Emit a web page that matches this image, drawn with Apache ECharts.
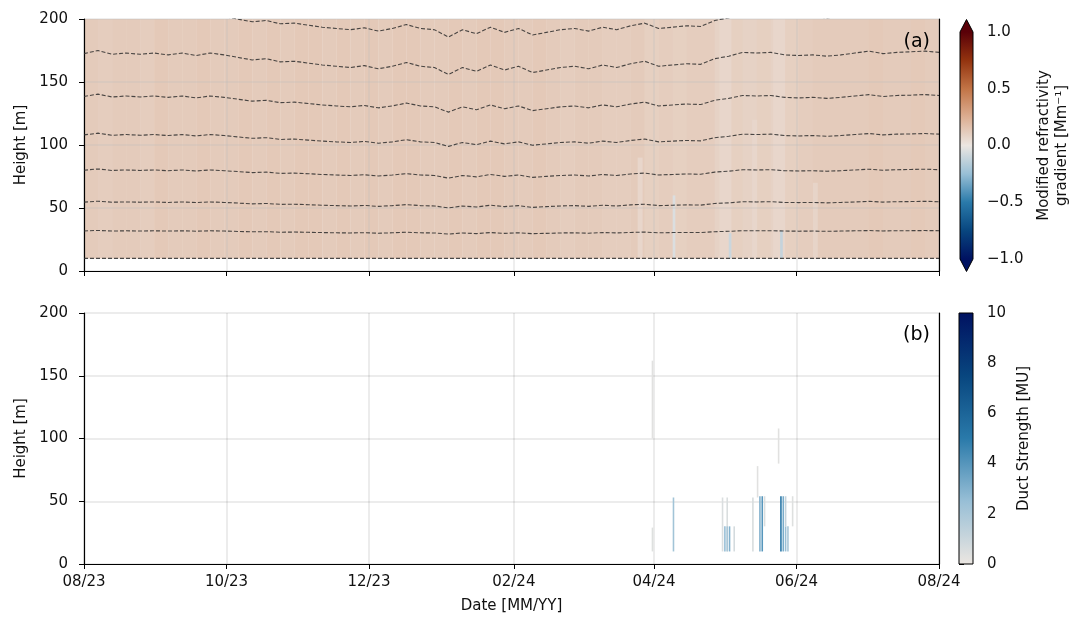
<!DOCTYPE html>
<html>
<head>
<meta charset="utf-8">
<title>Refractivity gradient and duct strength</title>
<script src="https://cdn.jsdelivr.net/npm/echarts@6/dist/echarts.min.js"></script>
<style>
  html, body { margin: 0; padding: 0; background: #fff; }
  #chart { width: 1072px; height: 619px; }
</style>
</head>
<body>
<div id="chart"></div>
<script>
// dates of the contour samples (every 6 days)
const lineDates = [
  '2023-08-01','2023-08-07','2023-08-13','2023-08-19','2023-08-25','2023-08-31',
  '2023-09-06','2023-09-12','2023-09-18','2023-09-24','2023-09-30',
  '2023-10-06','2023-10-12','2023-10-18','2023-10-24','2023-10-30',
  '2023-11-05','2023-11-11','2023-11-17','2023-11-23','2023-11-29',
  '2023-12-05','2023-12-11','2023-12-17','2023-12-23','2023-12-29',
  '2024-01-04','2024-01-10','2024-01-16','2024-01-22','2024-01-28',
  '2024-02-03','2024-02-09','2024-02-15','2024-02-21','2024-02-27',
  '2024-03-04','2024-03-10','2024-03-16','2024-03-22','2024-03-28',
  '2024-04-03','2024-04-09','2024-04-15','2024-04-21','2024-04-27',
  '2024-05-03','2024-05-09','2024-05-15','2024-05-21','2024-05-27',
  '2024-06-02','2024-06-08','2024-06-14','2024-06-20','2024-06-26',
  '2024-07-02','2024-07-08','2024-07-14','2024-07-20','2024-07-26',
  '2024-08-01'
];

// contour heights [m]
const h200 = [203,205.5,202.5,203.5,202.5,203.5,202,203.5,201.5,203.5,202,199.8,197.8,198.8,196.2,196.7,195.1,193.5,192.5,191.5,193,190.4,192.5,195.6,192.5,191.5,185.7,191.5,188.3,193.5,189.4,192.5,187.3,189.4,191.5,192.5,190.4,193.5,191.5,194.6,196.7,192.5,193.5,194.6,194.1,198.8,200.9,204,203.5,204,202,201.4,202,200.9,202,203.5,205.1,203,204,204.6,205.1,204];
const h172 = [172.5,175,172,173,172,173,171.5,173,171,173,171.5,169.5,167.5,168.5,166,166.5,165,163.5,162.5,161.5,163,160.5,162.5,165.5,162.5,161.5,156,161.5,158.5,163.5,159.5,162.5,157.5,159.5,161.5,162.5,160.5,163.5,161.5,164.5,166.5,162.5,163.5,164.5,164,168.5,170.5,173.5,173,173.5,171.5,171,171.5,170.5,171.5,173,174.5,172.5,173.5,174,174.5,173.5];
const h138 = [138.5,140.4,138.1,138.9,138.1,138.9,137.8,138.9,137.4,138.9,137.8,136.3,134.8,135.5,133.6,134,132.9,131.8,131,130.3,131.4,129.5,131,133.3,131,130.3,126.1,130.3,128,131.8,128.8,131,127.3,128.8,130.3,131,129.5,131.8,130.3,132.5,134,131,131.8,132.5,132.1,135.5,137,139.3,138.9,139.3,137.8,137.4,137.8,137,137.8,138.9,140,138.5,139.3,139.6,140,139.3];
const h108 = [108,109.4,107.7,108.3,107.7,108.3,107.5,108.3,107.2,108.3,107.5,106.4,105.3,105.8,104.4,104.7,103.9,103.1,102.5,102,102.8,101.4,102.5,104.2,102.5,102,98.9,102,100.3,103.1,100.9,102.5,99.8,100.9,102,102.5,101.4,103.1,102,103.6,104.7,102.5,103.1,103.6,103.3,105.8,106.9,108.6,108.3,108.6,107.5,107.2,107.5,106.9,107.5,108.3,109.1,108,108.6,108.8,109.1,108.6];
const h80 = [80,81,79.8,80.2,79.8,80.2,79.6,80.2,79.4,80.2,79.6,78.9,78.1,78.5,77.5,77.7,77.2,76.6,76.2,75.8,76.4,75.4,76.2,77.3,76.2,75.8,73.7,75.8,74.7,76.6,75.1,76.2,74.3,75.1,75.8,76.2,75.4,76.6,75.8,77,77.7,76.2,76.6,77,76.8,78.5,79.2,80.4,80.2,80.4,79.6,79.4,79.6,79.2,79.6,80.2,80.8,80,80.4,80.6,80.8,80.4];
const h55 = [54.7,55.4,54.6,54.8,54.6,54.8,54.4,54.8,54.3,54.8,54.4,53.9,53.3,53.6,52.9,53,52.6,52.2,51.9,51.6,52,51.3,51.9,52.7,51.9,51.6,50.1,51.6,50.8,52.2,51.1,51.9,50.5,51.1,51.6,51.9,51.3,52.2,51.6,52.5,53,51.9,52.2,52.5,52.3,53.6,54.1,55,54.8,55,54.4,54.3,54.4,54.1,54.4,54.8,55.3,54.7,55,55.1,55.3,55];
const h32 = [31.8,32.2,31.7,31.9,31.7,31.9,31.7,31.9,31.6,31.9,31.7,31.4,31.1,31.2,30.8,30.9,30.7,30.5,30.3,30.2,30.4,30,30.3,30.8,30.3,30.2,29.3,30.2,29.7,30.5,29.9,30.3,29.6,29.9,30.2,30.3,30,30.5,30.2,30.6,30.9,30.3,30.5,30.6,30.5,31.2,31.5,32,31.9,32,31.7,31.6,31.7,31.5,31.7,31.9,32.1,31.8,32,32,32.1,32];
const h10Dates = ['2023-08-01', '2024-08-01'];
const h10 = [10, 10];

// gradient [Mm^-1] per 6-day column, 10-200 m
const gradCols = [0.12,0.11,0.12,0.12,0.11,0.13,0.12,0.12,0.13,0.12,
  0.12,0.13,0.12,0.13,0.12,0.13,0.13,0.12,0.13,0.12,
  0.13,0.12,0.13,0.13,0.12,0.12,0.13,0.12,0.13,0.13,
  0.12,0.12,0.13,0.12,0.11,0.12,0.12,0.11,0.11,0.12,
  0.10,0.11,0.10,0.11,0.11,0.09,0.10,0.09,0.10,0.09,
  0.10,0.11,0.12,0.12,0.12,0.12,0.13,0.12,0.12,0.13,0.12];
const gradBottom = 10;
const gradTop = 200;

// short streaks: [from, to, bottom, top, gradient]
const gradStreaks = [
  ['2024-03-25', '2024-03-27', 10, 90, 0.07],
  ['2024-04-09', '2024-04-10', 10, 60, -0.05],
  ['2024-04-29', '2024-05-04', 10, 200, 0.07],
  ['2024-05-03', '2024-05-04', 10, 30, -0.1],
  ['2024-05-13', '2024-05-15', 10, 120, 0.07],
  ['2024-05-22', '2024-05-27', 10, 200, 0.07],
  ['2024-05-25', '2024-05-26', 10, 32, -0.12],
  ['2024-06-08', '2024-06-10', 10, 70, 0.08]
];

// ducts: [date, bottom, top, strength MU]
const ductBars = [
  ['2024-03-31', 100, 162, 0.3],
  ['2024-03-31', 10, 29, 0.4],
  ['2024-04-09', 10, 53, 2.2],
  ['2024-04-30', 10, 53, 0.5],
  ['2024-05-01', 10, 30, 2.5],
  ['2024-05-02', 10, 53, 0.5],
  ['2024-05-02', 10, 30, 2],
  ['2024-05-03', 10, 30, 3],
  ['2024-05-05', 10, 30, 0.7],
  ['2024-05-13', 10, 53, 0.6],
  ['2024-05-15', 53, 78, 0.3],
  ['2024-05-16', 10, 54, 3],
  ['2024-05-17', 10, 54, 4],
  ['2024-05-18', 30, 54, 0.5],
  ['2024-05-24', 80, 108, 0.3],
  ['2024-05-25', 10, 54, 5.2],
  ['2024-05-26', 10, 54, 3.2],
  ['2024-05-27', 10, 30, 2.5],
  ['2024-05-27', 30, 54, 1.2],
  ['2024-05-28', 10, 30, 2],
  ['2024-05-30', 30, 54, 0.4]
];
const ductBarDays = 0.55;

const monthTicks = ['2023-08-01','2023-10-01','2023-12-01','2024-02-01','2024-04-01','2024-06-01','2024-08-01'];
const gradTicks = [-1, -0.5, 0, 0.5, 1];
const ductTicks = [0, 2, 4, 6, 8, 10];

const vikColors = ['#001261','#08467f','#2a7aaa','#98bfd6','#ece6e1','#dcae92','#c27446','#93330f','#590008'];
const ductColors = ['#ebe6e1','#98bfd6','#2a7aaa','#08467f','#001261'];

const FONT = 'DejaVu Sans';
const DAY = 86400000;
// dates as UTC timestamps, shown on a value axis
const toTime = s => { const p = s.split('-').map(Number); return Date.UTC(p[0], p[1] - 1, p[2]); };
const tMin = toTime(monthTicks[0]);
const tMax = toTime(monthTicks[monthTicks.length - 1]);
const tickTimes = monthTicks.map(toTime);

const gradData = [];
gradCols.forEach((v, i) => {
  gradData.push([toTime(lineDates[i]), toTime(lineDates[i + 1]), gradBottom, gradTop, v]);
});
gradStreaks.forEach(s => gradData.push([toTime(s[0]), toTime(s[1]), s[2], s[3], s[4]]));
const ductData = ductBars.map(s => [toTime(s[0]), toTime(s[0]) + ductBarDays * DAY, s[1], s[2], s[3]]);

function renderCell(params, api) {
  const p0 = api.coord([api.value(0), api.value(3)]);
  const p1 = api.coord([api.value(1), api.value(2)]);
  return {
    type: 'rect',
    shape: { x: p0[0], y: p0[1], width: p1[0] - p0[0] + 0.3, height: p1[1] - p0[1] },
    style: { fill: api.visual('color') }
  };
}

function colorbar(colors, lo, hi, ext) {
  return function (params, api) {
    const a = api.coord([0, lo]);
    const b = api.coord([1, hi]);
    const x0 = a[0], x1 = b[0], yb = a[1], yt = b[1], xm = (x0 + x1) / 2;
    const stops = colors.map((c, i) => ({ offset: i / (colors.length - 1), color: c }));
    const kids = [{
      type: 'rect',
      shape: { x: x0, y: yt, width: x1 - x0, height: yb - yt },
      style: { fill: new echarts.graphic.LinearGradient(0, 1, 0, 0, stops) }
    }];
    let outline;
    if (ext) {
      const tipT = api.coord([0, hi + ext])[1];
      const tipB = api.coord([0, lo - ext])[1];
      kids.push({ type: 'polygon', shape: { points: [[x0, yt], [xm, tipT], [x1, yt]] }, style: { fill: colors[colors.length - 1] } });
      kids.push({ type: 'polygon', shape: { points: [[x0, yb], [xm, tipB], [x1, yb]] }, style: { fill: colors[0] } });
      outline = [[xm, tipB], [x0, yb], [x0, yt], [xm, tipT], [x1, yt], [x1, yb]];
    } else {
      outline = [[x0, yb], [x0, yt], [x1, yt], [x1, yb]];
    }
    kids.push({ type: 'polygon', shape: { points: outline }, style: { fill: null, stroke: '#000', lineWidth: 1 } });
    return { type: 'group', children: kids };
  };
}

const txt = { color: '#111', fontFamily: FONT, fontSize: 15 };
const gridLine = { show: true, lineStyle: { color: 'rgba(0,0,0,0.1)', width: 1.5 } };
const gridLineA = { show: true, lineStyle: { color: 'rgba(190,190,190,0.35)', width: 1.5 } };
const tick = { show: true, length: 5, lineStyle: { color: '#000', width: 1 } };
const spine = { show: true, lineStyle: { color: '#000', width: 1.2 } };
const fmtMonth = v => {
  const d = new Date(v);
  return String(d.getUTCMonth() + 1).padStart(2, '0') + '/' + String(d.getUTCFullYear()).slice(2);
};
const fmtGrad = v => (v < 0 ? '\u2212' : '') + Math.abs(v).toFixed(1);

function dateAxis(gridIndex, labels, z) {
  return {
    type: 'value', gridIndex, min: tMin, max: tMax, z,
    axisLine: spine,
    axisTick: Object.assign({ customValues: tickTimes }, tick),
    axisLabel: { show: labels, customValues: tickTimes, formatter: fmtMonth, margin: 11, ...txt },
    splitLine: z > 2 ? gridLineA : gridLine,
    name: labels ? 'Date [MM/YY]' : '',
    nameLocation: 'middle', nameGap: 35, nameTextStyle: txt
  };
}
function heightAxis(gridIndex, z) {
  return {
    type: 'value', gridIndex, min: 0, max: 200, interval: 50, z,
    axisLine: spine, axisTick: tick,
    axisLabel: { margin: 16, ...txt },
    splitLine: z > 2 ? gridLineA : gridLine,
    name: 'Height [m]', nameLocation: 'middle', nameGap: 55, nameRotate: 90, nameTextStyle: txt
  };
}
function frameAxis(gridIndex, position) {
  return {
    type: 'value', gridIndex, min: 0, max: 1, position, z: 6,
    axisLine: spine, axisTick: { show: false }, axisLabel: { show: false }, splitLine: { show: false }
  };
}
function barAxis(gridIndex, min, max, interval, fmt, name, nameGap) {
  return {
    type: 'value', gridIndex, position: 'right', min, max, interval,
    axisLine: { show: false }, axisTick: tick,
    axisLabel: { margin: 14, formatter: fmt, ...txt },
    splitLine: { show: false },
    name, nameLocation: 'middle', nameRotate: 90, nameGap,
    nameTextStyle: Object.assign({}, txt, { lineHeight: 18 })
  };
}

const lineStyle = { color: 'rgba(45,45,45,0.85)', width: 1.1, type: [4, 2] };
const contour = (dates, vals) => ({
  type: 'line', xAxisIndex: 0, yAxisIndex: 0, z: 4, symbol: 'none', silent: true,
  lineStyle, data: vals.map((v, i) => [toTime(dates[i]), v])
});

const chart = echarts.init(document.getElementById('chart'), null, { renderer: 'canvas' });
chart.setOption({
  animation: false,
  backgroundColor: '#fff',
  grid: [
    { left: 84, top: 19, width: 855, height: 252 },
    { left: 84, top: 313, width: 855, height: 251 },
    { left: 960, top: 32, width: 13, height: 227 },
    { left: 959, top: 313, width: 14, height: 251 }
  ],
  xAxis: [
    dateAxis(0, false, 3),
    dateAxis(1, true, 0),
    { type: 'value', gridIndex: 2, min: 0, max: 1, show: false },
    { type: 'value', gridIndex: 3, min: 0, max: 1, show: false },
    frameAxis(0, 'top'),
    frameAxis(1, 'top')
  ],
  yAxis: [
    heightAxis(0, 3),
    heightAxis(1, 0),
    barAxis(2, -1, 1, 0.5, fmtGrad, 'Modified refractivity\ngradient [Mm\u207B\u00B9]', 62),
    barAxis(3, 0, 10, 2, v => String(v), 'Duct Strength [MU]', 42),
    frameAxis(0, 'right'),
    frameAxis(1, 'right')
  ],
  visualMap: [
    { type: 'continuous', show: false, min: -1, max: 1, dimension: 4, seriesIndex: 0, inRange: { color: vikColors } },
    { type: 'continuous', show: false, min: 0, max: 10, dimension: 4, seriesIndex: 1, inRange: { color: ductColors } }
  ],
  series: [
    { type: 'custom', xAxisIndex: 0, yAxisIndex: 0, z: 1, silent: true, renderItem: renderCell,
      encode: { x: [0, 1], y: [2, 3] }, data: gradData },
    { type: 'custom', xAxisIndex: 1, yAxisIndex: 1, z: 1, silent: true, renderItem: renderCell,
      encode: { x: [0, 1], y: [2, 3] }, data: ductData },
    contour(lineDates, h200),
    contour(lineDates, h172),
    contour(lineDates, h138),
    contour(lineDates, h108),
    contour(lineDates, h80),
    contour(lineDates, h55),
    contour(lineDates, h32),
    contour(h10Dates, h10),
    { type: 'custom', xAxisIndex: 2, yAxisIndex: 2, silent: true,
      renderItem: colorbar(vikColors, gradTicks[0], gradTicks[gradTicks.length - 1], 0.11), data: [[0]] },
    { type: 'custom', xAxisIndex: 3, yAxisIndex: 3, silent: true,
      renderItem: colorbar(ductColors, ductTicks[0], ductTicks[ductTicks.length - 1], 0), data: [[0]] }
  ],
  graphic: [
    { type: 'text', z: 10, style: { text: '(a)', x: 930, y: 42, align: 'right', verticalAlign: 'middle', font: '19px "DejaVu Sans"', fill: '#000' } },
    { type: 'text', z: 10, style: { text: '(b)', x: 930, y: 335, align: 'right', verticalAlign: 'middle', font: '19px "DejaVu Sans"', fill: '#000' } }
  ]
});
</script>
</body>
</html>
